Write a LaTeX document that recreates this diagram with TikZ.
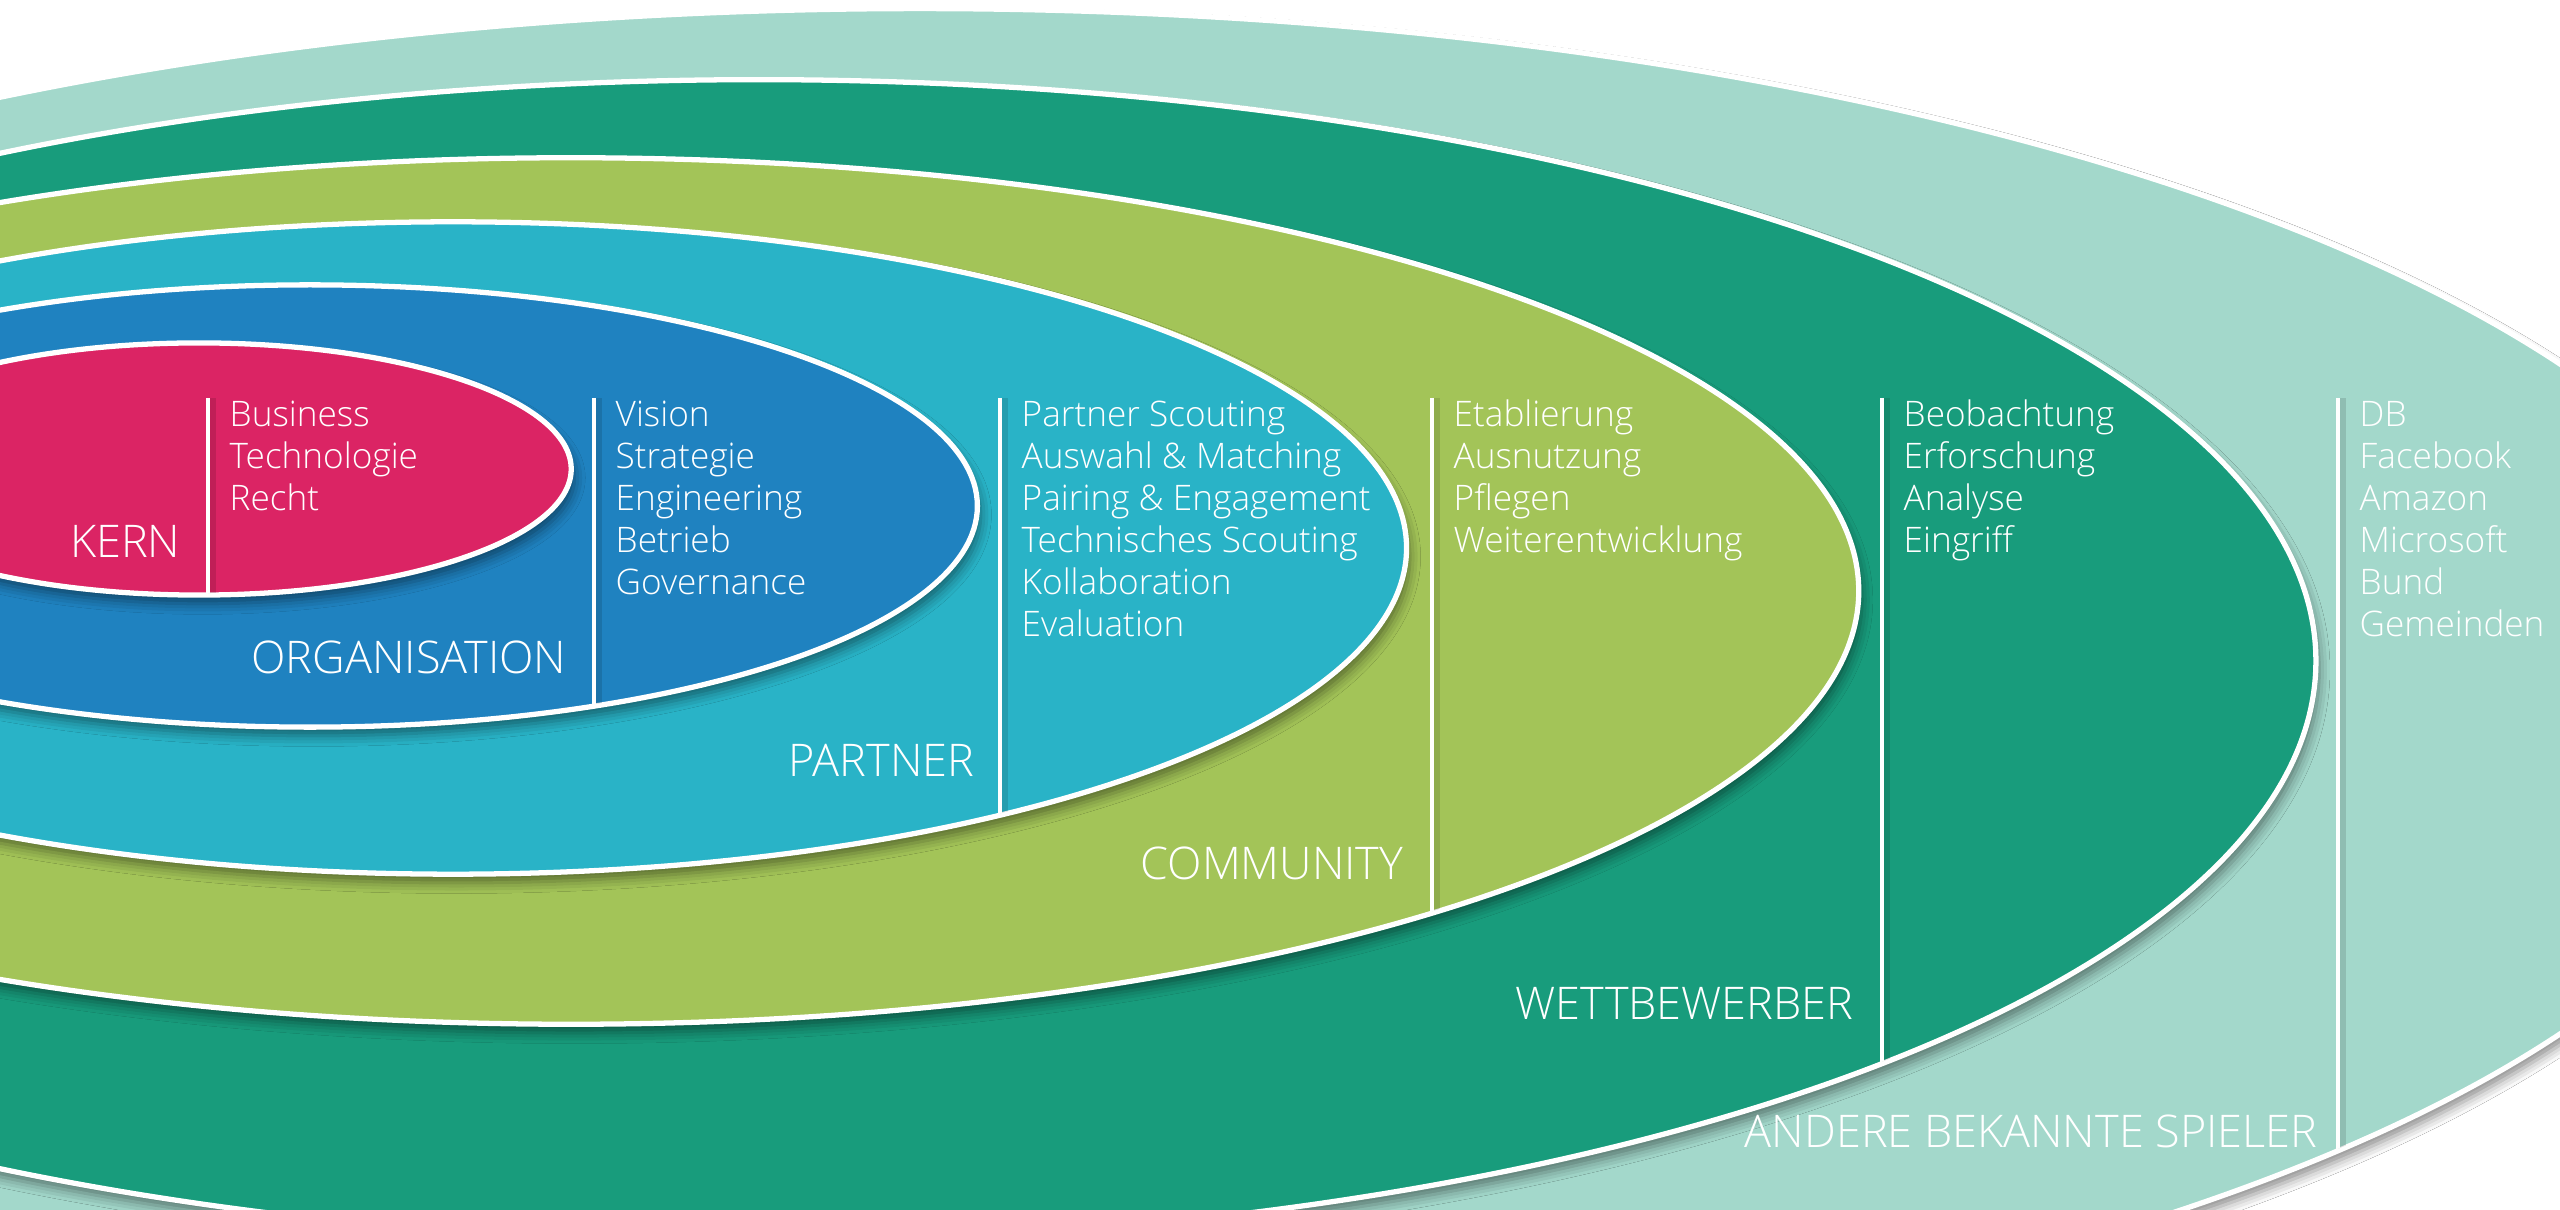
\documentclass[tikz,border=0pt]{standalone}
\usepackage{fontspec}
\setmainfont{Open Sans Light}
\usetikzlibrary{shadows.blur}
\definecolor{ckern}{HTML}{DB2464}
\definecolor{corga}{HTML}{1F82C0}
\definecolor{cpartner}{HTML}{29B3C7}
\definecolor{ccommunity}{HTML}{A3C458}
\definecolor{cwett}{HTML}{189C7C}
\definecolor{candere}{HTML}{A3D8CB}
\begin{document}
\begin{tikzpicture}[x=0.01cm,y=-0.01cm,
  ring/.style={draw=white, line width=1.5pt,
    blur shadow={shadow xshift=1pt, shadow yshift=-2.5pt, shadow blur radius=3pt, shadow opacity=45}},
  sepline/.style={draw=white, line width=0.9pt},
  sepshade/.style={draw=black, opacity=0.12, line width=2.5pt},
  item/.style={text=white, font=\fontsize{10pt}{12pt}\selectfont, inner sep=0pt, anchor=base west},
  head/.style={text=white, font=\fontsize{12.8pt}{15pt}\selectfont, inner sep=0pt, anchor=base east}]
\useasboundingbox (0,0) rectangle (2560,1210);
\clip (0,0) rectangle (2560,1210);
\fill[white] (0,0) rectangle (2560,1210);

% rings
\path[ring, fill=candere] (920,699) ellipse [x radius=18.74cm, y radius=6.90cm];
\path[ring, fill=cwett] (759,661) ellipse [x radius=15.56cm, y radius=5.81cm];
\path[ring, fill=ccommunity] (571,591) ellipse [x radius=12.87cm, y radius=4.33cm];
\path[ring, fill=cpartner] (453,548) ellipse [x radius=9.53cm, y radius=3.26cm];
\path[ring, fill=corga] (310,506) ellipse [x radius=6.67cm, y radius=2.21cm];
\path[ring, fill=ckern] (199,469) ellipse [x radius=3.72cm, y radius=1.26cm];

% separator lines, each clipped to its ring
\begin{scope}
\clip (199,469) ellipse [x radius=3.70cm, y radius=1.24cm];
\draw[sepshade] (212,398) -- (212,1300);
\draw[sepline] (208,398) -- (208,1300);
\end{scope}
\begin{scope}
\clip (310,506) ellipse [x radius=6.65cm, y radius=2.19cm];
\draw[sepshade] (598,398) -- (598,1300);
\draw[sepline] (594,398) -- (594,1300);
\end{scope}
\begin{scope}
\clip (453,548) ellipse [x radius=9.51cm, y radius=3.24cm];
\draw[sepshade] (1004,398) -- (1004,1300);
\draw[sepline] (1000,398) -- (1000,1300);
\end{scope}
\begin{scope}
\clip (571,591) ellipse [x radius=12.85cm, y radius=4.31cm];
\draw[sepshade] (1436,398) -- (1436,1300);
\draw[sepline] (1432,398) -- (1432,1300);
\end{scope}
\begin{scope}
\clip (759,661) ellipse [x radius=15.54cm, y radius=5.79cm];
\draw[sepshade] (1886,398) -- (1886,1300);
\draw[sepline] (1882,398) -- (1882,1300);
\end{scope}
\begin{scope}
\clip (920,699) ellipse [x radius=18.72cm, y radius=6.88cm];
\draw[sepshade] (2342,398) -- (2342,1300);
\draw[sepline] (2338,398) -- (2338,1300);
\end{scope}

% headings
\node[head] (hkern) at (181,558) {KERN};
\node[head] (horga) at (567,674) {ORGANISATION};
\node[head] (hpartner) at (975,777) {PARTNER};
\node[head] (hcommunity) at (1404,880) {COMMUNITY};
\node[head] (hwett) at (1854,1020) {WETTBEWERBER};
\node[head] (handere) at (2318,1147) {ANDERE BEKANNTE SPIELER};

% item lists
\foreach \t [count=\i from 0] in {Business,Technologie,Recht}
  \node[item] (kern-\i) at (229,{427+42*\i}) {\t};
\foreach \t [count=\i from 0] in {Vision,Strategie,Engineering,Betrieb,Governance}
  \node[item] (orga-\i) at (615,{427+42*\i}) {\t};
\foreach \t [count=\i from 0] in {Partner Scouting,Auswahl \& Matching,Pairing \& Engagement,Technisches Scouting,Kollaboration,Evaluation}
  \node[item] (partner-\i) at (1021,{427+42*\i}) {\t};
\foreach \t [count=\i from 0] in {Etablierung,Ausnutzung,Pflegen,Weiterentwicklung}
  \node[item] (community-\i) at (1453,{427+42*\i}) {\t};
\foreach \t [count=\i from 0] in {Beobachtung,Erforschung,Analyse,Eingriff}
  \node[item] (wett-\i) at (1903,{427+42*\i}) {\t};
\foreach \t [count=\i from 0] in {DB,Facebook,Amazon,Microsoft,Bund,Gemeinden}
  \node[item] (andere-\i) at (2359,{427+42*\i}) {\t};
\end{tikzpicture}
\end{document}
